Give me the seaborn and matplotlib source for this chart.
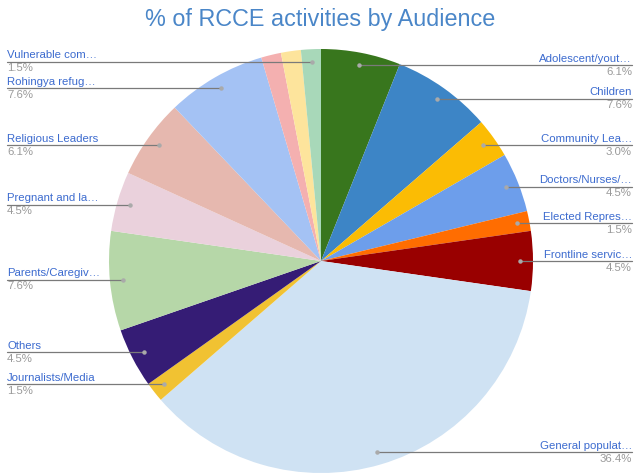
import matplotlib
matplotlib.use("Agg")
import matplotlib.pyplot as plt
import seaborn as sns
import numpy as np

# ---- data (counts of activities; shown as % of total) ----
audiences = ["Adolescent/yout…", "Children", "Community Lea…", "Doctors/Nurses/…",
             "Elected Repres…", "Frontline servic…", "General populat…",
             "Journalists/Media", "Others", "Parents/Caregiv…", "Pregnant and la…",
             "Religious Leaders", "Rohingya refug…", "", "", "Vulnerable com…"]
counts = [4, 5, 2, 3, 1, 3, 24, 1, 3, 5, 3, 4, 5, 1, 1, 1]
slice_colors = ["#38761d", "#3d85c6", "#fbbc04", "#6d9eeb", "#ff6d01", "#990000",
                "#cfe2f3", "#f1c232", "#351c75", "#b6d7a8", "#ead1dc", "#e6b8af",
                "#a4c2f4", "#f4b0b0", "#fde49c", "#a8d8b9"]
title = "% of RCCE activities by Audience"

sns.set_style("white")
plt.rcParams["font.family"] = ["Liberation Sans", "DejaVu Sans"]

W, H = 638, 474
fig = plt.figure(figsize=(W / 100, H / 100), dpi=100)
ax = fig.add_axes([0, 0, 1, 1])

cx, cy, R = 321, H - 261, 212
palette = sns.color_palette(slice_colors)
wedges, _ = ax.pie(counts, colors=palette, startangle=90, counterclock=False,
                   center=(cx, cy), radius=R, frame=True,
                   wedgeprops=dict(linewidth=0))
ax.set_xlim(0, W)
ax.set_ylim(0, H)
ax.set_aspect("equal")
ax.axis("off")

total = sum(counts)
name_col = "#3c6bcf"
pct_col = "#9a9a9a"
line_col = "#7a7a7a"
for w, name, c in zip(wedges, audiences, counts):
    if not name:
        continue
    mid = np.deg2rad((w.theta1 + w.theta2) / 2)
    dx = cx + 0.94 * R * np.cos(mid)
    dy = cy + 0.94 * R * np.sin(mid)
    right = np.cos(mid) > 0
    xe = 632 if right else 7
    ax.plot([dx, xe], [dy, dy], color=line_col, lw=0.9, zorder=5)
    ax.plot([dx], [dy], "o", color="#aaaaaa", ms=2.2, zorder=6)
    ha = "right" if right else "left"
    ax.text(xe, dy + 1.5, name, ha=ha, va="bottom", color=name_col, fontsize=8.2)
    ax.text(xe, dy - 1.5, f"{100 * c / total:.1f}%", ha=ha, va="top",
            color=pct_col, fontsize=8.2)

ax.text(W / 2 + 1, H - 19, title, ha="center", va="center", color="#4a86c8",
        fontsize=16.8)

fig.savefig("out.png", dpi=100)
